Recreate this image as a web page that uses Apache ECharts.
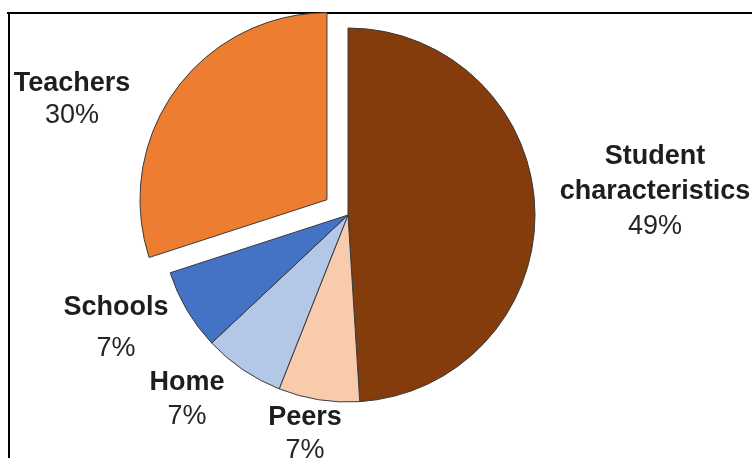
<!DOCTYPE html>
<html>
<head>
<meta charset="utf-8">
<script src="https://cdn.jsdelivr.net/npm/echarts@6/dist/echarts.min.js"></script>
<style>
html,body{margin:0;padding:0;background:#fff;}
#chart{width:752px;height:458px;}
</style>
</head>
<body>
<div id="chart"></div>
<script>
// Data
var categories = ['Student characteristics', 'Peers', 'Home', 'Schools', 'Teachers'];
var values = [49, 7, 7, 7, 30];
var explodedCategory = 'Teachers';

// Styles (not data)
var colors = ['#843C0C', '#F8CBAD', '#B4C7E7', '#4472C4', '#ED7D31'];
var labelPos = [[655, 192], [305, 434], [187, 400], [116, 328], [72, 100]];
var labelLineHeights = [35, 33, 34, 41, 32];
var pieCenter = [348, 215];
var pieRadius = 187;
var explodeOffset = 26;

var chart = echarts.init(document.getElementById('chart'), null, {renderer: 'canvas'});

// offset direction of the exploded slice (mid-angle, clockwise from 12 o'clock)
var total = values.reduce(function (a, b) { return a + b; }, 0);
var exIdx = categories.indexOf(explodedCategory);
var before = 0;
for (var k = 0; k < exIdx; k++) before += values[k];
var midFrac = (before + values[exIdx] / 2) / total;
var midAng = midFrac * 2 * Math.PI;
var exCenter = [pieCenter[0] + explodeOffset * Math.sin(midAng), pieCenter[1] - explodeOffset * Math.cos(midAng)];

function richFor(i) {
  var lh = labelLineHeights[i];
  return {
    n: {fontFamily: 'Liberation Sans, Arial, sans-serif', fontWeight: 'bold', fontSize: 27, color: '#1e1e1e', lineHeight: lh},
    p: {fontFamily: 'Liberation Sans, Arial, sans-serif', fontWeight: 'normal', fontSize: 27, color: '#262626', lineHeight: lh}
  };
}

function buildData(showExploded) {
  return categories.map(function (c, i) {
    var visible = (c === explodedCategory) === showExploded;
    return {
      name: c,
      value: values[i],
      itemStyle: visible ? {color: colors[i], borderColor: '#3a3a3a', borderWidth: 1}
                         : {color: 'rgba(0,0,0,0)', borderWidth: 0},
      label: {show: visible, rich: richFor(i)}
    };
  });
}

function fmt(p) {
  var lines = p.name.split(' ').map(function (w) { return '{n|' + w + '}'; });
  lines.push('{p|' + p.value + '%}');
  return lines.join('\n');
}

function layoutFn(params) {
  var pos = labelPos[params.dataIndex];
  return {x: pos[0], y: pos[1], align: 'center', verticalAlign: 'middle', hideOverlap: false};
}

function pieSeries(center, showExploded) {
  return {
    type: 'pie',
    center: center,
    radius: [0, pieRadius],
    startAngle: 90,
    clockwise: true,
    silent: true,
    avoidLabelOverlap: false,
    emphasis: {disabled: true},
    labelLine: {show: false},
    label: {position: 'outside', formatter: fmt},
    labelLayout: layoutFn,
    data: buildData(showExploded)
  };
}

var option = {
  backgroundColor: '#ffffff',
  animation: false,
  graphic: [
    {type: 'line', shape: {x1: 7, y1: 13, x2: 752, y2: 13}, style: {stroke: '#000', lineWidth: 2}},
    {type: 'line', shape: {x1: 9, y1: 13, x2: 9, y2: 458}, style: {stroke: '#000', lineWidth: 2}}
  ],
  series: [pieSeries(pieCenter, false), pieSeries(exCenter, true)]
};
chart.setOption(option);
</script>
</body>
</html>
